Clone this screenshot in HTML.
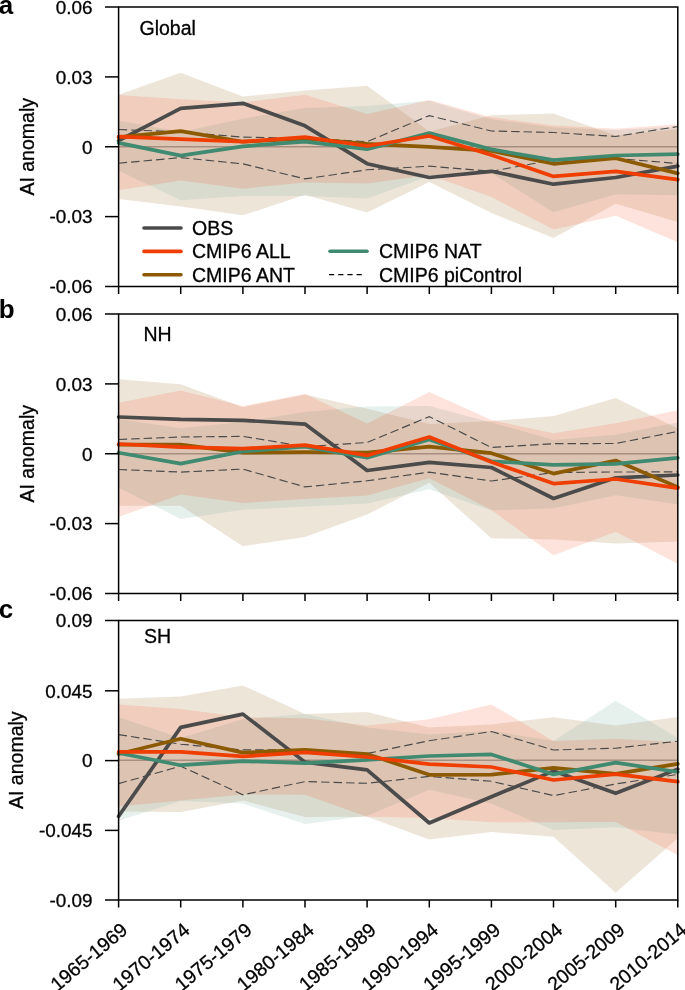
<!DOCTYPE html>
<html><head><meta charset="utf-8"><style>
html,body{margin:0;padding:0;background:#fff;}
svg{display:block;will-change:transform;}
.t{font-family:"Liberation Sans",sans-serif;font-size:19.5px;fill:#000;stroke:#000;stroke-width:0.3px;}
.L{font-family:"Liberation Sans",sans-serif;font-size:26px;font-weight:bold;fill:#000;}
</style></head><body>
<svg width="685" height="990" viewBox="0 0 685 990">
<line x1="118.6" y1="146.75" x2="677.8" y2="146.75" stroke="#a8a8b0" stroke-width="1.4"/>
<polygon points="118.6,94.7 180.7,72.7 242.9,96.5 305.0,90.6 367.1,85.8 429.3,131.4 491.4,115.2 553.5,113.5 615.7,135.6 677.8,129.0 677.8,222.0 615.7,203.8 553.5,238.1 491.4,213.0 429.3,182.0 367.1,212.5 305.0,194.8 242.9,215.3 180.7,206.6 118.6,199.0" fill="#8c5000" fill-opacity="0.15"/>
<polygon points="118.6,120.8 180.7,132.0 242.9,118.7 305.0,108.0 367.1,106.0 429.3,100.8 491.4,119.2 553.5,127.4 615.7,130.1 677.8,126.5 677.8,195.3 615.7,194.2 553.5,212.2 491.4,173.0 429.3,176.0 367.1,198.4 305.0,195.9 242.9,195.9 180.7,200.2 118.6,170.4" fill="#64a091" fill-opacity="0.16"/>
<polygon points="118.6,95.1 180.7,99.3 242.9,102.4 305.0,94.7 367.1,114.1 429.3,100.1 491.4,117.2 553.5,125.4 615.7,128.7 677.8,124.3 677.8,242.2 615.7,215.7 553.5,229.6 491.4,197.0 429.3,175.0 367.1,183.5 305.0,182.6 242.9,188.7 180.7,180.4 118.6,190.3" fill="#fa370a" fill-opacity="0.14"/>
<polyline points="118.6,129.5 180.7,131.9 242.9,137.1 305.0,138.2 367.1,141.7 429.3,115.6 491.4,131.0 553.5,132.5 615.7,136.5 677.8,126.5" fill="none" stroke="#4a4a4a" stroke-width="1.15" stroke-dasharray="8.5,4"/>
<polyline points="118.6,163.2 180.7,157.6 242.9,163.9 305.0,178.9 367.1,169.8 429.3,166.2 491.4,171.3 553.5,160.0 615.7,158.4 677.8,163.5" fill="none" stroke="#4a4a4a" stroke-width="1.15" stroke-dasharray="8.5,4"/>
<polyline points="118.6,140.6 180.7,108.4 242.9,103.3 305.0,125.8 367.1,163.7 429.3,177.5 491.4,171.3 553.5,184.2 615.7,177.5 677.8,166.1" fill="none" stroke="#4b4b4b" stroke-width="3.7" stroke-linejoin="round" stroke-linecap="round"/>
<polyline points="118.6,137.2 180.7,131.1 242.9,141.7 305.0,138.7 367.1,143.8 429.3,146.8 491.4,151.0 553.5,163.8 615.7,158.2 677.8,173.4" fill="none" stroke="#8c5a00" stroke-width="3.7" stroke-linejoin="round" stroke-linecap="round"/>
<polyline points="118.6,142.9 180.7,155.6 242.9,146.3 305.0,141.7 367.1,149.2 429.3,133.1 491.4,149.4 553.5,160.1 615.7,155.5 677.8,154.2" fill="none" stroke="#3f8a70" stroke-width="3.7" stroke-linejoin="round" stroke-linecap="round"/>
<polyline points="118.6,136.6 180.7,139.1 242.9,141.7 305.0,137.2 367.1,146.0 429.3,136.0 491.4,155.0 553.5,176.4 615.7,171.3 677.8,179.6" fill="none" stroke="#ef3e00" stroke-width="3.7" stroke-linejoin="round" stroke-linecap="round"/>
<rect x="118.6" y="7" width="559.2" height="279.5" fill="none" stroke="#000" stroke-width="1.5"/>
<line x1="105" y1="7" x2="118.6" y2="7" stroke="#000" stroke-width="1.5"/>
<text x="92.5" y="13.8" text-anchor="end" class="t" style="font-size:18.9px">0.06</text>
<line x1="105" y1="76.9" x2="118.6" y2="76.9" stroke="#000" stroke-width="1.5"/>
<text x="92.5" y="83.7" text-anchor="end" class="t" style="font-size:18.9px">0.03</text>
<line x1="105" y1="146.75" x2="118.6" y2="146.75" stroke="#000" stroke-width="1.5"/>
<text x="92.5" y="153.6" text-anchor="end" class="t" style="font-size:18.9px">0</text>
<line x1="105" y1="216.6" x2="118.6" y2="216.6" stroke="#000" stroke-width="1.5"/>
<text x="92.5" y="223.4" text-anchor="end" class="t" style="font-size:18.9px">-0.03</text>
<line x1="105" y1="286.5" x2="118.6" y2="286.5" stroke="#000" stroke-width="1.5"/>
<text x="92.5" y="293.3" text-anchor="end" class="t" style="font-size:18.9px">-0.06</text>
<line x1="118.6" y1="286.5" x2="118.6" y2="294.0" stroke="#000" stroke-width="1.5"/>
<line x1="180.7" y1="286.5" x2="180.7" y2="294.0" stroke="#000" stroke-width="1.5"/>
<line x1="242.9" y1="286.5" x2="242.9" y2="294.0" stroke="#000" stroke-width="1.5"/>
<line x1="305.0" y1="286.5" x2="305.0" y2="294.0" stroke="#000" stroke-width="1.5"/>
<line x1="367.1" y1="286.5" x2="367.1" y2="294.0" stroke="#000" stroke-width="1.5"/>
<line x1="429.3" y1="286.5" x2="429.3" y2="294.0" stroke="#000" stroke-width="1.5"/>
<line x1="491.4" y1="286.5" x2="491.4" y2="294.0" stroke="#000" stroke-width="1.5"/>
<line x1="553.5" y1="286.5" x2="553.5" y2="294.0" stroke="#000" stroke-width="1.5"/>
<line x1="615.7" y1="286.5" x2="615.7" y2="294.0" stroke="#000" stroke-width="1.5"/>
<line x1="677.8" y1="286.5" x2="677.8" y2="294.0" stroke="#000" stroke-width="1.5"/>
<text x="139.5" y="34.5" class="t">Global</text>
<text x="-1.3" y="14.2" class="L">a</text>
<text transform="translate(34.3,146.8) rotate(-90)" text-anchor="middle" class="t">AI anomaly</text>
<line x1="118.6" y1="453.75" x2="677.8" y2="453.75" stroke="#a8a8b0" stroke-width="1.4"/>
<polygon points="118.6,379.2 180.7,384.3 242.9,407.2 305.0,394.5 367.1,408.8 429.3,424.0 491.4,421.0 553.5,416.0 615.7,397.9 677.8,428.5 677.8,541.6 615.7,543.5 553.5,539.5 491.4,538.3 429.3,482.8 367.1,514.5 305.0,537.1 242.9,546.2 180.7,505.8 118.6,505.8" fill="#8c5000" fill-opacity="0.15"/>
<polygon points="118.6,419.0 180.7,428.2 242.9,422.0 305.0,411.9 367.1,406.4 429.3,406.0 491.4,422.4 553.5,440.0 615.7,434.8 677.8,422.4 677.8,504.2 615.7,495.3 553.5,508.3 491.4,510.3 429.3,489.2 367.1,503.5 305.0,506.5 242.9,509.7 180.7,519.0 118.6,487.4" fill="#64a091" fill-opacity="0.16"/>
<polygon points="118.6,402.7 180.7,390.4 242.9,406.0 305.0,394.1 367.1,423.5 429.3,392.0 491.4,420.1 553.5,433.3 615.7,423.2 677.8,410.3 677.8,563.8 615.7,531.8 553.5,555.3 491.4,510.0 429.3,478.3 367.1,495.6 305.0,499.1 242.9,503.0 180.7,494.5 118.6,517.0" fill="#fa370a" fill-opacity="0.14"/>
<polyline points="118.6,439.5 180.7,437.0 242.9,436.4 305.0,446.6 367.1,442.5 429.3,416.6 491.4,447.5 553.5,443.7 615.7,443.5 677.8,431.5" fill="none" stroke="#4a4a4a" stroke-width="1.15" stroke-dasharray="8.5,4"/>
<polyline points="118.6,469.5 180.7,472.1 242.9,469.1 305.0,486.9 367.1,480.8 429.3,472.1 491.4,481.0 553.5,472.5 615.7,472.0 677.8,471.9" fill="none" stroke="#4a4a4a" stroke-width="1.15" stroke-dasharray="8.5,4"/>
<polyline points="118.6,417.0 180.7,419.4 242.9,420.3 305.0,424.1 367.1,470.5 429.3,462.3 491.4,467.5 553.5,498.5 615.7,477.8 677.8,475.0" fill="none" stroke="#4b4b4b" stroke-width="3.7" stroke-linejoin="round" stroke-linecap="round"/>
<polyline points="118.6,444.6 180.7,444.6 242.9,452.7 305.0,452.1 367.1,452.7 429.3,446.6 491.4,453.2 553.5,473.6 615.7,460.5 677.8,487.1" fill="none" stroke="#8c5a00" stroke-width="3.7" stroke-linejoin="round" stroke-linecap="round"/>
<polyline points="118.6,452.7 180.7,463.6 242.9,451.5 305.0,446.6 367.1,457.8 429.3,439.5 491.4,461.3 553.5,464.8 615.7,463.8 677.8,457.8" fill="none" stroke="#3f8a70" stroke-width="3.7" stroke-linejoin="round" stroke-linecap="round"/>
<polyline points="118.6,444.0 180.7,447.2 242.9,448.7 305.0,445.2 367.1,455.4 429.3,437.0 491.4,462.0 553.5,483.6 615.7,479.0 677.8,488.1" fill="none" stroke="#ef3e00" stroke-width="3.7" stroke-linejoin="round" stroke-linecap="round"/>
<rect x="118.6" y="314" width="559.2" height="279.5" fill="none" stroke="#000" stroke-width="1.5"/>
<line x1="105" y1="314" x2="118.6" y2="314" stroke="#000" stroke-width="1.5"/>
<text x="92.5" y="320.8" text-anchor="end" class="t" style="font-size:18.9px">0.06</text>
<line x1="105" y1="383.9" x2="118.6" y2="383.9" stroke="#000" stroke-width="1.5"/>
<text x="92.5" y="390.7" text-anchor="end" class="t" style="font-size:18.9px">0.03</text>
<line x1="105" y1="453.75" x2="118.6" y2="453.75" stroke="#000" stroke-width="1.5"/>
<text x="92.5" y="460.6" text-anchor="end" class="t" style="font-size:18.9px">0</text>
<line x1="105" y1="523.6" x2="118.6" y2="523.6" stroke="#000" stroke-width="1.5"/>
<text x="92.5" y="530.4" text-anchor="end" class="t" style="font-size:18.9px">-0.03</text>
<line x1="105" y1="593.5" x2="118.6" y2="593.5" stroke="#000" stroke-width="1.5"/>
<text x="92.5" y="600.3" text-anchor="end" class="t" style="font-size:18.9px">-0.06</text>
<line x1="118.6" y1="593.5" x2="118.6" y2="601.0" stroke="#000" stroke-width="1.5"/>
<line x1="180.7" y1="593.5" x2="180.7" y2="601.0" stroke="#000" stroke-width="1.5"/>
<line x1="242.9" y1="593.5" x2="242.9" y2="601.0" stroke="#000" stroke-width="1.5"/>
<line x1="305.0" y1="593.5" x2="305.0" y2="601.0" stroke="#000" stroke-width="1.5"/>
<line x1="367.1" y1="593.5" x2="367.1" y2="601.0" stroke="#000" stroke-width="1.5"/>
<line x1="429.3" y1="593.5" x2="429.3" y2="601.0" stroke="#000" stroke-width="1.5"/>
<line x1="491.4" y1="593.5" x2="491.4" y2="601.0" stroke="#000" stroke-width="1.5"/>
<line x1="553.5" y1="593.5" x2="553.5" y2="601.0" stroke="#000" stroke-width="1.5"/>
<line x1="615.7" y1="593.5" x2="615.7" y2="601.0" stroke="#000" stroke-width="1.5"/>
<line x1="677.8" y1="593.5" x2="677.8" y2="601.0" stroke="#000" stroke-width="1.5"/>
<text x="143.4" y="341.3" class="t">NH</text>
<text x="-1.3" y="318.2" class="L">b</text>
<text transform="translate(34.3,453.8) rotate(-90)" text-anchor="middle" class="t">AI anomaly</text>
<line x1="118.6" y1="760.25" x2="677.8" y2="760.25" stroke="#a8a8b0" stroke-width="1.4"/>
<polygon points="118.6,698.8 180.7,696.4 242.9,685.5 305.0,714.1 367.1,712.1 429.3,727.4 491.4,724.4 553.5,717.3 615.7,725.5 677.8,717.0 677.8,838.2 615.7,892.7 553.5,836.7 491.4,832.0 429.3,839.4 367.1,816.8 305.0,817.0 242.9,800.6 180.7,812.0 118.6,811.6" fill="#8c5000" fill-opacity="0.15"/>
<polygon points="118.6,717.2 180.7,738.0 242.9,719.2 305.0,714.1 367.1,727.4 429.3,734.6 491.4,731.1 553.5,741.0 615.7,700.7 677.8,738.0 677.8,834.5 615.7,827.3 553.5,830.0 491.4,803.5 429.3,789.8 367.1,815.8 305.0,824.0 242.9,803.5 180.7,801.0 118.6,820.8" fill="#64a091" fill-opacity="0.16"/>
<polygon points="118.6,704.5 180.7,709.0 242.9,717.2 305.0,718.2 367.1,725.4 429.3,719.2 491.4,704.4 553.5,741.0 615.7,738.8 677.8,742.0 677.8,855.2 615.7,822.0 553.5,822.2 491.4,822.2 429.3,817.9 367.1,816.8 305.0,794.7 242.9,794.5 180.7,800.4 118.6,806.5" fill="#fa370a" fill-opacity="0.14"/>
<polyline points="118.6,734.6 180.7,744.2 242.9,749.9 305.0,749.9 367.1,753.5 429.3,740.7 491.4,731.5 553.5,750.0 615.7,748.2 677.8,741.2" fill="none" stroke="#4a4a4a" stroke-width="1.15" stroke-dasharray="8.5,4"/>
<polyline points="118.6,783.6 180.7,766.2 242.9,794.8 305.0,781.6 367.1,783.3 429.3,776.4 491.4,781.3 553.5,795.6 615.7,784.0 677.8,774.4" fill="none" stroke="#4a4a4a" stroke-width="1.15" stroke-dasharray="8.5,4"/>
<polyline points="118.6,816.3 180.7,727.4 242.9,714.1 305.0,762.1 367.1,769.8 429.3,823.0 491.4,796.8 553.5,771.1 615.7,793.3 677.8,769.1" fill="none" stroke="#4b4b4b" stroke-width="3.7" stroke-linejoin="round" stroke-linecap="round"/>
<polyline points="118.6,754.0 180.7,738.7 242.9,752.6 305.0,749.9 367.1,754.0 429.3,774.8 491.4,774.6 553.5,767.8 615.7,773.8 677.8,763.8" fill="none" stroke="#8c5a00" stroke-width="3.7" stroke-linejoin="round" stroke-linecap="round"/>
<polyline points="118.6,753.0 180.7,765.2 242.9,761.1 305.0,763.2 367.1,759.9 429.3,756.0 491.4,754.4 553.5,774.4 615.7,762.6 677.8,772.0" fill="none" stroke="#3f8a70" stroke-width="3.7" stroke-linejoin="round" stroke-linecap="round"/>
<polyline points="118.6,751.9 180.7,751.9 242.9,756.4 305.0,752.3 367.1,757.0 429.3,764.2 491.4,767.0 553.5,780.0 615.7,774.2 677.8,781.7" fill="none" stroke="#ef3e00" stroke-width="3.7" stroke-linejoin="round" stroke-linecap="round"/>
<rect x="118.6" y="620.5" width="559.2" height="279.5" fill="none" stroke="#000" stroke-width="1.5"/>
<line x1="105" y1="620.5" x2="118.6" y2="620.5" stroke="#000" stroke-width="1.5"/>
<text x="92.5" y="627.3" text-anchor="end" class="t" style="font-size:18.9px">0.09</text>
<line x1="105" y1="690.8" x2="118.6" y2="690.8" stroke="#000" stroke-width="1.5"/>
<text x="92.5" y="697.6" text-anchor="end" class="t" style="font-size:18.9px">0.045</text>
<line x1="105" y1="760.6" x2="118.6" y2="760.6" stroke="#000" stroke-width="1.5"/>
<text x="92.5" y="767.4" text-anchor="end" class="t" style="font-size:18.9px">0</text>
<line x1="105" y1="830.4" x2="118.6" y2="830.4" stroke="#000" stroke-width="1.5"/>
<text x="92.5" y="837.2" text-anchor="end" class="t" style="font-size:18.9px">-0.045</text>
<line x1="105" y1="900" x2="118.6" y2="900" stroke="#000" stroke-width="1.5"/>
<text x="92.5" y="906.8" text-anchor="end" class="t" style="font-size:18.9px">-0.09</text>
<line x1="118.6" y1="900" x2="118.6" y2="907.5" stroke="#000" stroke-width="1.5"/>
<line x1="180.7" y1="900" x2="180.7" y2="907.5" stroke="#000" stroke-width="1.5"/>
<line x1="242.9" y1="900" x2="242.9" y2="907.5" stroke="#000" stroke-width="1.5"/>
<line x1="305.0" y1="900" x2="305.0" y2="907.5" stroke="#000" stroke-width="1.5"/>
<line x1="367.1" y1="900" x2="367.1" y2="907.5" stroke="#000" stroke-width="1.5"/>
<line x1="429.3" y1="900" x2="429.3" y2="907.5" stroke="#000" stroke-width="1.5"/>
<line x1="491.4" y1="900" x2="491.4" y2="907.5" stroke="#000" stroke-width="1.5"/>
<line x1="553.5" y1="900" x2="553.5" y2="907.5" stroke="#000" stroke-width="1.5"/>
<line x1="615.7" y1="900" x2="615.7" y2="907.5" stroke="#000" stroke-width="1.5"/>
<line x1="677.8" y1="900" x2="677.8" y2="907.5" stroke="#000" stroke-width="1.5"/>
<text x="144" y="642.6" class="t">SH</text>
<text x="-1.3" y="617.7" class="L">c</text>
<text transform="translate(23.1,760.2) rotate(-90)" text-anchor="middle" class="t">AI anomaly</text>
<line x1="144" y1="228" x2="181" y2="228" stroke="#4b4b4b" stroke-width="3.6" stroke-linecap="round"/>
<text x="192" y="234.9" class="t">OBS</text>
<line x1="144" y1="251.4" x2="181" y2="251.4" stroke="#ef3e00" stroke-width="3.6" stroke-linecap="round"/>
<text x="192" y="258.3" class="t">CMIP6 ALL</text>
<line x1="144" y1="274.7" x2="181" y2="274.7" stroke="#8c5a00" stroke-width="3.6" stroke-linecap="round"/>
<text x="192" y="281.6" class="t">CMIP6 ANT</text>
<line x1="330" y1="251.2" x2="367" y2="251.2" stroke="#3f8a70" stroke-width="3.6" stroke-linecap="round"/>
<text x="379" y="258.1" class="t">CMIP6 NAT</text>
<line x1="329" y1="274.6" x2="363" y2="274.6" stroke="#000" stroke-width="1.3" stroke-dasharray="5.2,4"/>
<text x="379" y="281.5" class="t">CMIP6 piControl</text>
<text transform="translate(128.9,932) rotate(-40)" text-anchor="end" class="t">1965-1969</text>
<text transform="translate(191.0,932) rotate(-40)" text-anchor="end" class="t">1970-1974</text>
<text transform="translate(253.2,932) rotate(-40)" text-anchor="end" class="t">1975-1979</text>
<text transform="translate(315.3,932) rotate(-40)" text-anchor="end" class="t">1980-1984</text>
<text transform="translate(377.4,932) rotate(-40)" text-anchor="end" class="t">1985-1989</text>
<text transform="translate(439.6,932) rotate(-40)" text-anchor="end" class="t">1990-1994</text>
<text transform="translate(501.7,932) rotate(-40)" text-anchor="end" class="t">1995-1999</text>
<text transform="translate(563.8,932) rotate(-40)" text-anchor="end" class="t">2000-2004</text>
<text transform="translate(626.0,932) rotate(-40)" text-anchor="end" class="t">2005-2009</text>
<text transform="translate(688.1,932) rotate(-40)" text-anchor="end" class="t">2010-2014</text>
</svg>
</body></html>
